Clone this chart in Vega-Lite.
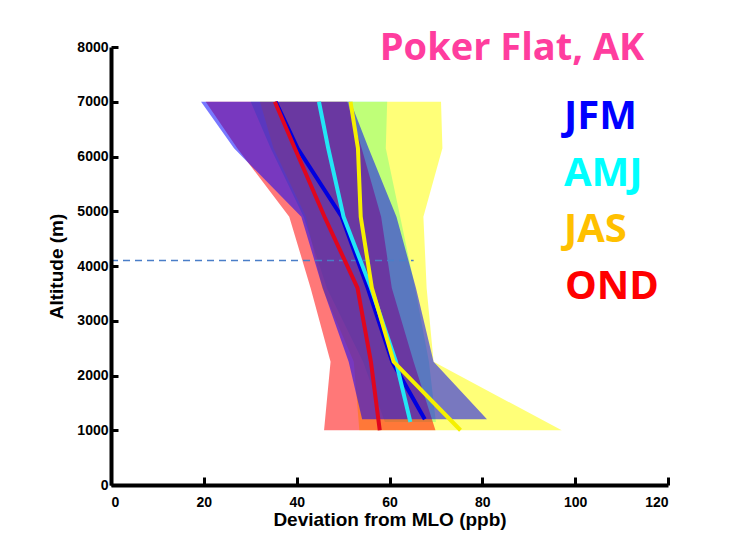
{
  "$schema": "https://vega.github.io/schema/vega-lite/v6.json",
  "width": 557,
  "height": 438,
  "autosize": {"type": "none"},
  "padding": {"left": 111, "top": 47, "right": 61, "bottom": 53},
  "background": "white",
  "config": {"view": {"stroke": null}},
  "datasets": {
    "bands": [
      {"season": "AMJ", "alt": 1150, "lo": 59, "hi": 70},
      {"season": "AMJ", "alt": 2250, "lo": 54.3, "hi": 68.5},
      {"season": "AMJ", "alt": 3600, "lo": 46.5, "hi": 65.5},
      {"season": "AMJ", "alt": 4900, "lo": 41.5, "hi": 62.3},
      {"season": "AMJ", "alt": 6150, "lo": 34.4, "hi": 59.2},
      {"season": "AMJ", "alt": 7000, "lo": 30.1, "hi": 59.5},
      {"season": "JAS", "alt": 1000, "lo": 53.5, "hi": 97.1},
      {"season": "JAS", "alt": 2250, "lo": 52.3, "hi": 69.5},
      {"season": "JAS", "alt": 3600, "lo": 45.5, "hi": 68},
      {"season": "JAS", "alt": 4900, "lo": 42, "hi": 67.3},
      {"season": "JAS", "alt": 6150, "lo": 35, "hi": 71.4},
      {"season": "JAS", "alt": 7000, "lo": 32.1, "hi": 71.1},
      {"season": "OND", "alt": 1000, "lo": 45.9, "hi": 69.9},
      {"season": "OND", "alt": 2250, "lo": 47.3, "hi": 65.2},
      {"season": "OND", "alt": 3600, "lo": 43, "hi": 60.5},
      {"season": "OND", "alt": 4900, "lo": 38.4, "hi": 58.2},
      {"season": "OND", "alt": 6150, "lo": 27.2, "hi": 54},
      {"season": "OND", "alt": 7000, "lo": 20.4, "hi": 50.9},
      {"season": "JFM", "alt": 1200, "lo": 54.1, "hi": 81},
      {"season": "JFM", "alt": 2250, "lo": 51.2, "hi": 69.5},
      {"season": "JFM", "alt": 3600, "lo": 45.6, "hi": 65.7},
      {"season": "JFM", "alt": 4900, "lo": 41, "hi": 61.5},
      {"season": "JFM", "alt": 6150, "lo": 26.5, "hi": 55.5},
      {"season": "JFM", "alt": 7000, "lo": 19.4, "hi": 51.6}
    ],
    "lines": [
      {"season": "JFM", "alt": 1200, "dev": 67.6},
      {"season": "JFM", "alt": 2250, "dev": 60.6},
      {"season": "JFM", "alt": 3600, "dev": 55.3},
      {"season": "JFM", "alt": 4900, "dev": 49.7},
      {"season": "JFM", "alt": 6150, "dev": 40.2},
      {"season": "JFM", "alt": 7000, "dev": 35.5},
      {"season": "AMJ", "alt": 1150, "dev": 64.5},
      {"season": "AMJ", "alt": 2250, "dev": 61.4},
      {"season": "AMJ", "alt": 3600, "dev": 56},
      {"season": "AMJ", "alt": 4900, "dev": 50.1},
      {"season": "AMJ", "alt": 6150, "dev": 46.8},
      {"season": "AMJ", "alt": 7000, "dev": 44.8},
      {"season": "JAS", "alt": 1000, "dev": 75.3},
      {"season": "JAS", "alt": 2250, "dev": 60.9},
      {"season": "JAS", "alt": 3600, "dev": 56.2},
      {"season": "JAS", "alt": 4900, "dev": 53.8},
      {"season": "JAS", "alt": 6150, "dev": 53.2},
      {"season": "JAS", "alt": 7000, "dev": 51.6},
      {"season": "OND", "alt": 1000, "dev": 57.9},
      {"season": "OND", "alt": 2250, "dev": 56},
      {"season": "OND", "alt": 3600, "dev": 53.1},
      {"season": "OND", "alt": 4900, "dev": 46},
      {"season": "OND", "alt": 6150, "dev": 39.6},
      {"season": "OND", "alt": 7000, "dev": 35.3}
    ],
    "labels": [
      {"label": "JFM", "x": 97.6, "alt": 6500},
      {"label": "AMJ", "x": 97.6, "alt": 5467},
      {"label": "JAS", "x": 97.6, "alt": 4434},
      {"label": "OND", "x": 97.8, "alt": 3402}
    ],
    "site": [{"label": "Poker Flat, AK", "x": 86.4, "alt": 7763}],
    "ref": [{"alt": 4100, "from": 0, "to": 65.2}]
  },
  "layer": [
    {
      "data": {"name": "bands"},
      "transform": [{"filter": "datum.season === 'AMJ'"}],
      "mark": {"type": "area", "orient": "horizontal", "color": "#00FFFF", "opacity": 0.53},
      "encoding": {
        "y": {"field": "alt", "type": "quantitative", "scale": {"domain": [0, 8000], "nice": false},
          "axis": {"title": "Altitude (m)", "values": [0, 1000, 2000, 3000, 4000, 5000, 6000, 7000, 8000], "format": "d", "grid": false,
            "domainColor": "black", "domainWidth": 4, "ticks": true, "tickColor": "black", "tickWidth": 3, "tickSize": -7,
            "labelFont": "Liberation Sans", "labelFontWeight": "bold", "labelFontSize": 14, "labelColor": "black", "labelPadding": 10,
            "titleFont": "Liberation Sans", "titleFontSize": 19, "titleFontWeight": "bold", "titleColor": "black", "titlePadding": 10, "zindex": 2}},
        "x": {"field": "lo", "type": "quantitative", "scale": {"domain": [0, 120], "nice": false},
          "axis": {"title": "Deviation from MLO (ppb)", "values": [0, 20, 40, 60, 80, 100, 120], "format": "d", "grid": false,
            "domainColor": "black", "domainWidth": 4, "ticks": true, "tickColor": "black", "tickWidth": 3, "tickSize": -8,
            "labelFont": "Liberation Sans", "labelFontWeight": "bold", "labelFontSize": 14, "labelColor": "black", "labelPadding": 18,
            "titleFont": "Liberation Sans", "titleFontSize": 19, "titleFontWeight": "bold", "titleColor": "black", "titlePadding": 1, "zindex": 2}},
        "x2": {"field": "hi"}
      }
    },
    {
      "data": {"name": "bands"},
      "transform": [{"filter": "datum.season === 'JAS'"}],
      "mark": {"type": "area", "orient": "horizontal", "color": "#FFFF00", "opacity": 0.53},
      "encoding": {
        "y": {"field": "alt", "type": "quantitative"},
        "x": {"field": "lo", "type": "quantitative"},
        "x2": {"field": "hi"}
      }
    },
    {
      "data": {"name": "bands"},
      "transform": [{"filter": "datum.season === 'OND'"}],
      "mark": {"type": "area", "orient": "horizontal", "color": "#FF0000", "opacity": 0.53},
      "encoding": {
        "y": {"field": "alt", "type": "quantitative"},
        "x": {"field": "lo", "type": "quantitative"},
        "x2": {"field": "hi"}
      }
    },
    {
      "data": {"name": "bands"},
      "transform": [{"filter": "datum.season === 'JFM'"}],
      "mark": {"type": "area", "orient": "horizontal", "color": "#0000FF", "opacity": 0.53},
      "encoding": {
        "y": {"field": "alt", "type": "quantitative"},
        "x": {"field": "lo", "type": "quantitative"},
        "x2": {"field": "hi"}
      }
    },
    {
      "data": {"name": "ref"},
      "mark": {"type": "rule", "color": "#4A7EC8", "strokeWidth": 1.5, "strokeDash": [7, 5]},
      "encoding": {
        "y": {"field": "alt", "type": "quantitative"},
        "x": {"field": "from", "type": "quantitative"},
        "x2": {"field": "to"}
      }
    },
    {
      "data": {"name": "lines"},
      "transform": [{"filter": "datum.season === 'JFM'"}],
      "mark": {"type": "line", "color": "#0000E0", "strokeWidth": 4},
      "encoding": {
        "y": {"field": "alt", "type": "quantitative"},
        "x": {"field": "dev", "type": "quantitative"},
        "order": {"field": "alt", "type": "quantitative"}
      }
    },
    {
      "data": {"name": "lines"},
      "transform": [{"filter": "datum.season === 'AMJ'"}],
      "mark": {"type": "line", "color": "#22E6F5", "strokeWidth": 4},
      "encoding": {
        "y": {"field": "alt", "type": "quantitative"},
        "x": {"field": "dev", "type": "quantitative"},
        "order": {"field": "alt", "type": "quantitative"}
      }
    },
    {
      "data": {"name": "lines"},
      "transform": [{"filter": "datum.season === 'JAS'"}],
      "mark": {"type": "line", "color": "#F5F000", "strokeWidth": 4},
      "encoding": {
        "y": {"field": "alt", "type": "quantitative"},
        "x": {"field": "dev", "type": "quantitative"},
        "order": {"field": "alt", "type": "quantitative"}
      }
    },
    {
      "data": {"name": "lines"},
      "transform": [{"filter": "datum.season === 'OND'"}],
      "mark": {"type": "line", "color": "#E0061E", "strokeWidth": 4},
      "encoding": {
        "y": {"field": "alt", "type": "quantitative"},
        "x": {"field": "dev", "type": "quantitative"},
        "order": {"field": "alt", "type": "quantitative"}
      }
    },
    {
      "data": {"name": "labels"},
      "mark": {"type": "text", "align": "left", "baseline": "alphabetic", "font": "Open Sans", "fontWeight": "bold", "fontSize": 40},
      "encoding": {
        "y": {"field": "alt", "type": "quantitative"},
        "x": {"field": "x", "type": "quantitative"},
        "text": {"field": "label"},
        "color": {"field": "label", "type": "nominal", "legend": null,
          "scale": {"domain": ["JFM", "AMJ", "JAS", "OND"], "range": ["#0000FF", "#00FFFF", "#FFC000", "#FF0000"]}}
      }
    },
    {
      "data": {"name": "site"},
      "mark": {"type": "text", "align": "center", "baseline": "alphabetic", "font": "Open Sans", "fontWeight": "bold", "fontSize": 38, "color": "#FF3D9E"},
      "encoding": {
        "y": {"field": "alt", "type": "quantitative"},
        "x": {"field": "x", "type": "quantitative"},
        "text": {"field": "label"}
      }
    }
  ]
}
